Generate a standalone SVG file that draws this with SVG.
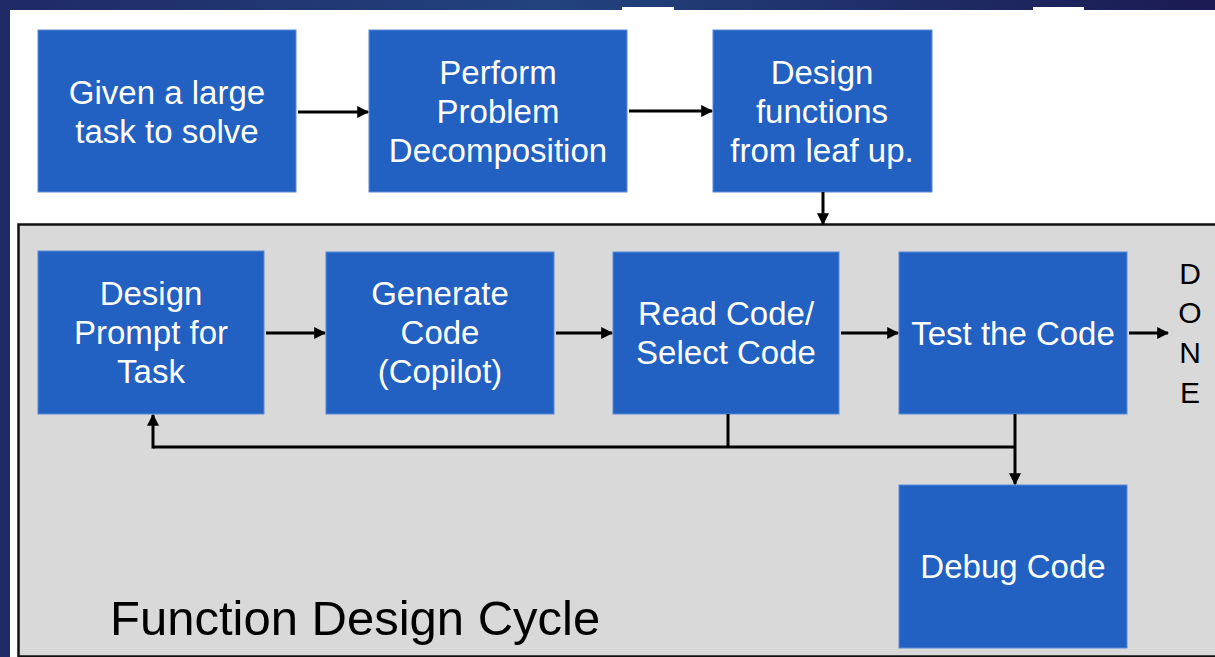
<svg xmlns="http://www.w3.org/2000/svg" width="1215" height="657" viewBox="0 0 1215 657">
  <defs>
    <linearGradient id="bg" x1="0" y1="0" x2="1" y2="0">
      <stop offset="0" stop-color="#1f2a66"/>
      <stop offset="0.45" stop-color="#22437e"/>
      <stop offset="1" stop-color="#1c1a52"/>
    </linearGradient>
    <marker id="ah" viewBox="0 0 10 10" refX="9" refY="5" markerWidth="4" markerHeight="4" orient="auto" markerUnits="strokeWidth">
      <path d="M0,0 L10,5 L0,10 z" fill="#000"/>
    </marker>
    <style>
      .box { fill: #2260c2; stroke: #5a8ad8; stroke-width: 1; }
      .lbl { font-family: "Liberation Sans", Arial, sans-serif; font-size: 33px; fill: #ffffff; text-anchor: middle; }
      .done { font-family: "Liberation Sans", Arial, sans-serif; font-size: 30px; fill: #000; text-anchor: middle; }
      .cyc { font-family: "Liberation Sans", Arial, sans-serif; font-size: 49px; fill: #000; }
      .ln { stroke: #000; stroke-width: 3; fill: none; }
      .arr { stroke: #000; stroke-width: 3; fill: none; marker-end: url(#ah); }
    </style>
  </defs>

  <!-- background -->
  <rect x="0" y="0" width="1215" height="657" fill="url(#bg)"/>
  <rect x="10" y="10" width="1205" height="647" fill="#ffffff"/>
  <rect x="622" y="7" width="52" height="3" fill="#ffffff"/>
  <rect x="1033" y="7" width="51" height="3" fill="#ffffff"/>

  <!-- cycle container -->
  <g id="cycle">
    <rect x="18.5" y="224.5" width="1210" height="432" fill="#d9d9d9" stroke="#111" stroke-width="2.5"/>
    <text class="cyc" x="110" y="635">Function Design Cycle</text>
  </g>

  <!-- top row -->
  <g id="n-given">
    <rect class="box" x="38" y="30" width="258" height="162"/>
    <text class="lbl" x="167" y="104">Given a large</text>
    <text class="lbl" x="167" y="143">task to solve</text>
  </g>
  <g id="n-decomp">
    <rect class="box" x="369" y="30" width="258" height="162"/>
    <text class="lbl" x="498" y="84">Perform</text>
    <text class="lbl" x="498" y="123">Problem</text>
    <text class="lbl" x="498" y="162">Decomposition</text>
  </g>
  <g id="n-designfn">
    <rect class="box" x="713" y="30" width="219" height="162"/>
    <text class="lbl" x="822" y="84">Design</text>
    <text class="lbl" x="822" y="123">functions</text>
    <text class="lbl" x="822" y="162">from leaf up.</text>
  </g>

  <!-- cycle row -->
  <g id="n-prompt">
    <rect class="box" x="38" y="251" width="226" height="163"/>
    <text class="lbl" x="151" y="305">Design</text>
    <text class="lbl" x="151" y="344">Prompt for</text>
    <text class="lbl" x="151" y="383">Task</text>
  </g>
  <g id="n-generate">
    <rect class="box" x="326" y="252" width="228" height="162"/>
    <text class="lbl" x="440" y="305">Generate</text>
    <text class="lbl" x="440" y="344">Code</text>
    <text class="lbl" x="440" y="383">(Copilot)</text>
  </g>
  <g id="n-read">
    <rect class="box" x="613" y="252" width="226" height="162"/>
    <text class="lbl" x="726" y="325">Read Code/</text>
    <text class="lbl" x="726" y="364">Select Code</text>
  </g>
  <g id="n-test">
    <rect class="box" x="899" y="252" width="228" height="162"/>
    <text class="lbl" x="1013" y="345">Test the Code</text>
  </g>
  <g id="n-debug">
    <rect class="box" x="899" y="485" width="228" height="163"/>
    <text class="lbl" x="1013" y="578">Debug Code</text>
  </g>
  <g id="n-done">
    <text class="done" x="1190" y="284">D</text>
    <text class="done" x="1190" y="323">O</text>
    <text class="done" x="1190" y="363">N</text>
    <text class="done" x="1190" y="403">E</text>
  </g>

  <!-- connectors -->
  <g id="connectors">
    <line class="arr" x1="298" y1="112" x2="368" y2="112"/>
    <line class="arr" x1="629" y1="111" x2="712" y2="111"/>
    <line class="arr" x1="823" y1="192" x2="823" y2="224"/>
    <line class="arr" x1="266" y1="333" x2="325" y2="333"/>
    <line class="arr" x1="556" y1="333" x2="612" y2="333"/>
    <line class="arr" x1="841" y1="333" x2="898" y2="333"/>
    <line class="arr" x1="1129" y1="333" x2="1168" y2="333"/>
    <polyline class="ln" points="728,414 728,447"/>
    <polyline class="ln" points="1015,447 153,447"/>
    <line class="arr" x1="153" y1="448.5" x2="153" y2="415"/>
    <line class="arr" x1="1015" y1="414" x2="1015" y2="484"/>
  </g>
</svg>
